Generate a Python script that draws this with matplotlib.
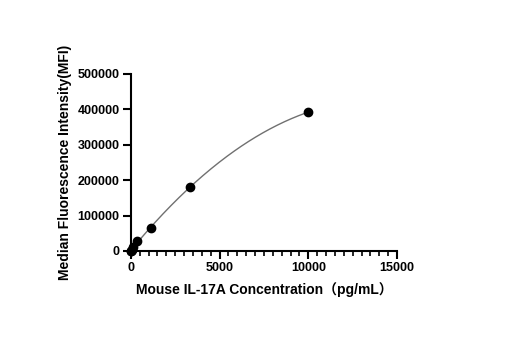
import matplotlib.pyplot as plt
import numpy as np
from matplotlib.ticker import MultipleLocator

# concentrations (pg/mL) and MFI
conc = [0, 13.7, 41, 123, 370, 1111, 3333, 10000]
mfi = [0, 1000, 3500, 10000, 28000, 65000, 180000, 392000]

plt.rcParams['font.family'] = ['Liberation Sans', 'Noto Sans CJK SC', 'DejaVu Sans']

fig = plt.figure(figsize=(5.15, 3.5), dpi=100)
ax = fig.add_axes([0.254, 0.283, 0.517, 0.506])

# smooth standard curve fitted through the points
coef = np.polyfit(conc, mfi, 2)
xs = np.linspace(0, max(conc), 200)
ax.plot(xs, np.polyval(coef, xs), color='#707070', lw=1.0, zorder=2)
ax.plot(conc, mfi, 'o', color='black', ms=6, zorder=3, clip_on=False)

ax.set_xlim(0, 15000)
ax.set_ylim(0, 500000)
ax.xaxis.set_major_locator(MultipleLocator(5000))
ax.xaxis.set_minor_locator(MultipleLocator(500))
ax.yaxis.set_major_locator(MultipleLocator(100000))

for s in ['top', 'right']:
    ax.spines[s].set_visible(False)
for s in ['left', 'bottom']:
    ax.spines[s].set_linewidth(1.5)

ax.tick_params(which='major', direction='out', length=6, width=1.5, labelsize=9, pad=2)
ax.tick_params(which='minor', direction='out', length=3.5, width=1.2)
for lab in ax.get_xticklabels() + ax.get_yticklabels():
    lab.set_fontweight('bold')

ax.set_xlabel('Mouse IL-17A Concentration（pg/mL）', fontsize=10, fontweight='bold', labelpad=6)
ax.set_ylabel('Median Fluorescence Intensity(MFI)', fontsize=10, fontweight='bold', labelpad=4)

plt.savefig('out.png', dpi=100)
